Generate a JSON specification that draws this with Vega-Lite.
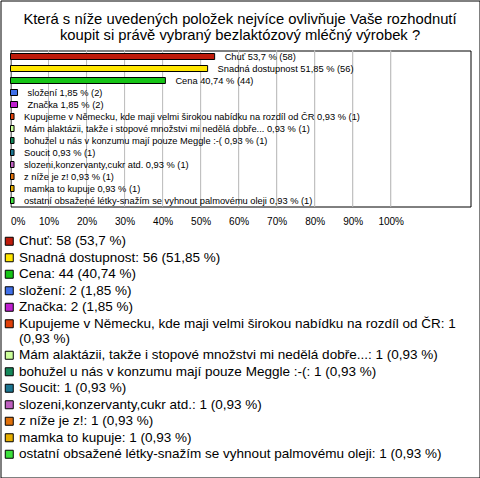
{
  "$schema": "https://vega.github.io/schema/vega-lite/v6.json",
  "width": 479,
  "height": 477,
  "padding": 0.5,
  "autosize": {"type": "none"},
  "title": {
    "text": ["Která s níže uvedených položek nejvíce ovlivňuje Vaše rozhodnutí", "koupit si právě vybraný bezlaktózový mléčný výrobek ?"],
    "anchor": "middle",
    "frame": "group",
    "offset": -42,
    "fontSize": 14.8,
    "font": "Liberation Sans",
    "fontWeight": "normal",
    "color": "black",
    "lineHeight": 15.5
  },
  "config": {
    "font": "Liberation Sans",
    "view": {"stroke": "black", "strokeWidth": 1}
  },
  "datasets": {
    "ticks": [{"tick": 0}, {"tick": 10}, {"tick": 20}, {"tick": 30}, {"tick": 40}, {"tick": 50}, {"tick": 60}, {"tick": 70}, {"tick": 80}, {"tick": 90}, {"tick": 100}],
    "items": [
      {"cat": "Chuť", "count": 58, "pct": 53.7, "barLabel": "Chuť 53,7 % (58)", "legendLabel": "Chuť: 58 (53,7 %)"},
      {"cat": "Snadná dostupnost", "count": 56, "pct": 51.85, "barLabel": "Snadná dostupnost 51,85 % (56)", "legendLabel": "Snadná dostupnost: 56 (51,85 %)"},
      {"cat": "Cena", "count": 44, "pct": 40.74, "barLabel": "Cena 40,74 % (44)", "legendLabel": "Cena: 44 (40,74 %)"},
      {"cat": "složení", "count": 2, "pct": 1.85, "barLabel": "složení 1,85 % (2)", "legendLabel": "složení: 2 (1,85 %)"},
      {"cat": "Značka", "count": 2, "pct": 1.85, "barLabel": "Značka 1,85 % (2)", "legendLabel": "Značka: 2 (1,85 %)"},
      {"cat": "Kupujeme v Německu, kde maji velmi širokou nabídku na rozdíl od ČR", "count": 1, "pct": 0.93, "barLabel": "Kupujeme v Německu, kde maji velmi širokou nabídku na rozdíl od ČR 0,93 % (1)", "legendLabel": "Kupujeme v Německu, kde maji velmi širokou nabídku na rozdíl od ČR: 1\n(0,93 %)"},
      {"cat": "Mám alaktázii, takže i stopové množstvi mi nedělá dobře...", "count": 1, "pct": 0.93, "barLabel": "Mám alaktázii, takže i stopové množstvi mi nedělá dobře... 0,93 % (1)", "legendLabel": "Mám alaktázii, takže i stopové množstvi mi nedělá dobře...: 1 (0,93 %)"},
      {"cat": "bohužel u nás v konzumu mají pouze Meggle :-(", "count": 1, "pct": 0.93, "barLabel": "bohužel u nás v konzumu mají pouze Meggle :-( 0,93 % (1)", "legendLabel": "bohužel u nás v konzumu mají pouze Meggle :-(: 1 (0,93 %)"},
      {"cat": "Soucit", "count": 1, "pct": 0.93, "barLabel": "Soucit 0,93 % (1)", "legendLabel": "Soucit: 1 (0,93 %)"},
      {"cat": "slozeni,konzervanty,cukr atd.", "count": 1, "pct": 0.93, "barLabel": "slozeni,konzervanty,cukr atd. 0,93 % (1)", "legendLabel": "slozeni,konzervanty,cukr atd.: 1 (0,93 %)"},
      {"cat": "z níže je z!", "count": 1, "pct": 0.93, "barLabel": "z níže je z! 0,93 % (1)", "legendLabel": "z níže je z!: 1 (0,93 %)"},
      {"cat": "mamka to kupuje", "count": 1, "pct": 0.93, "barLabel": "mamka to kupuje 0,93 % (1)", "legendLabel": "mamka to kupuje: 1 (0,93 %)"},
      {"cat": "ostatní obsažené létky-snažím se vyhnout palmovému oleji", "count": 1, "pct": 0.93, "barLabel": "ostatní obsažené létky-snažím se vyhnout palmovému oleji 0,93 % (1)", "legendLabel": "ostatní obsažené létky-snažím se vyhnout palmovému oleji: 1 (0,93 %)"}
    ]
  },
  "layer": [
    {
      "data": {"name": "ticks"},
      "mark": {"type": "tick", "orient": "vertical", "color": "#c0c0c0", "thickness": 1, "size": 156, "opacity": 1},
      "encoding": {
        "x": {"field": "tick", "type": "quantitative", "scale": {"domain": [0, 121], "range": [10, 470], "nice": false, "zero": true}, "axis": null},
        "y": {"datum": 0.5, "type": "quantitative", "scale": {"domain": [0, 1], "range": [206, 50], "nice": false, "zero": false}, "axis": null}
      }
    },
    {
      "data": {"name": "ticks"},
      "mark": {"type": "rule", "color": "#c0c0c0", "strokeWidth": 1},
      "encoding": {
        "x": {"field": "tick", "type": "quantitative", "scale": {"domain": [0, 121], "range": [10, 470], "nice": false, "zero": true}, "axis": null},
        "y": {"datum": 0, "type": "quantitative", "scale": {"domain": [0, 1], "range": [206, 50], "nice": false, "zero": false}, "axis": null},
        "y2": {"datum": 1}
      }
    },
    {
      "data": {"name": "items"},
      "mark": {"type": "bar", "stroke": "black", "strokeWidth": 1},
      "encoding": {
        "color": {
          "field": "legendLabel",
          "type": "nominal",
          "sort": null,
          "scale": {"range": ["#BF1B0B", "#FFE600", "#16C416", "#3F6FE8", "#BF1FCF", "#E0400A", "#CCFF99", "#14875A", "#1B7590", "#BE5FBF", "#E0700A", "#E6AE00", "#3CE03C"]},
          "legend": {
            "orient": "none",
            "legendX": 2,
            "legendY": 234,
            "title": null,
            "symbolType": "square",
            "symbolSize": 64,
            "symbolStrokeColor": "black",
            "symbolStrokeWidth": 1,
            "symbolOpacity": 1,
            "labelFontSize": 13.5,
            "labelFont": "Liberation Sans",
            "labelColor": "black",
            "labelLimit": 0,
            "labelOffset": 3,
            "rowPadding": 1.5,
            "labelExpr": "split(datum.label, '\\n')"
          }
        },
        "x": {
          "field": "pct",
          "type": "quantitative",
          "scale": {"domain": [0, 121], "range": [10, 470], "nice": false, "zero": true},
          "axis": {
            "orient": "bottom",
            "offset": -271,
            "title": null,
            "values": [0, 10, 20, 30, 40, 50, 60, 70, 80, 90, 100],
            "labelExpr": "datum.value + '%'",
            "labelFlush": true,
            "labelFontSize": 10,
            "labelColor": "black",
            "labelPadding": 10,
            "ticks": false,
            "grid": false,
            "domain": true,
            "domainColor": "black",
            "domainWidth": 1
          }
        },
        "y": {
          "field": "cat",
          "type": "nominal",
          "sort": null,
          "scale": {"range": [50, 206], "paddingInner": 0.5, "paddingOuter": 0.25},
          "axis": {
            "orient": "left",
            "offset": -10,
            "title": null,
            "labels": false,
            "ticks": false,
            "grid": false,
            "domain": true,
            "domainColor": "black"
          }
        }
      }
    },
    {
      "data": {"name": "items"},
      "mark": {"type": "text", "align": "left", "baseline": "middle", "dx": 10, "fontSize": 9.3, "color": "black"},
      "encoding": {
        "text": {"field": "barLabel", "type": "nominal"},
        "x": {
          "field": "pct",
          "type": "quantitative",
          "scale": {"domain": [0, 121], "range": [10, 470], "nice": false, "zero": true},
          "axis": {
            "orient": "top",
            "offset": -50,
            "title": null,
            "labels": false,
            "ticks": false,
            "grid": false,
            "domain": true,
            "domainColor": "black"
          }
        },
        "y": {
          "field": "cat",
          "type": "nominal",
          "sort": null,
          "scale": {"range": [50, 206], "paddingInner": 0.5, "paddingOuter": 0.25},
          "axis": {
            "orient": "right",
            "offset": -9,
            "title": null,
            "labels": false,
            "ticks": false,
            "grid": false,
            "domain": true,
            "domainColor": "black"
          }
        }
      }
    }
  ],
  "resolve": {"axis": {"x": "independent", "y": "independent"}, "scale": {"y": "independent"}}
}
